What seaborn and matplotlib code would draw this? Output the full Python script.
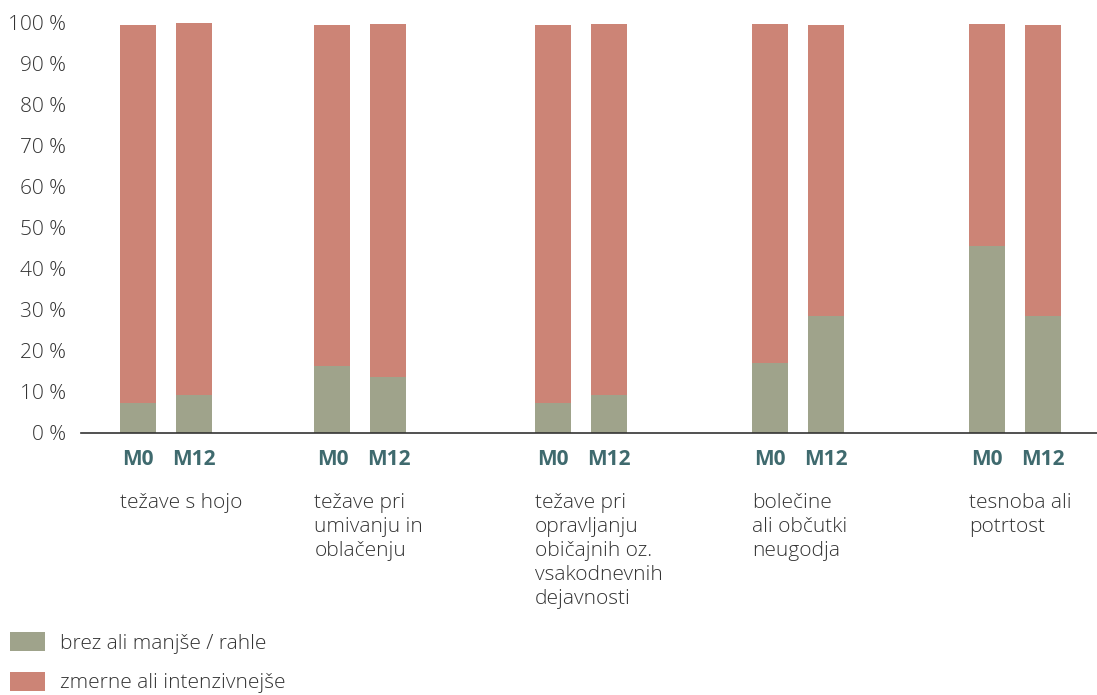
import matplotlib
matplotlib.use("Agg")
import matplotlib.pyplot as plt
from matplotlib.patches import Patch
from matplotlib.transforms import blended_transform_factory
import seaborn as sns
import pandas as pd
import numpy as np

# ---- data ----
categories = ["težave s hojo", "težave pri\numivanju in\noblačenju",
              "težave pri\nopravljanju\nobičajnih oz.\nvsakodnevnih\ndejavnosti",
              "bolečine\nali občutki\nneugodja", "tesnoba ali\npotrtost"]
periods = ["M0", "M12"]
mild = [7.3, 9.2, 16.4, 13.6, 7.3, 9.2, 17.0, 28.5, 45.5, 28.5]      # brez ali manjše / rahle
severe = [92.0, 90.5, 82.9, 86.0, 92.0, 90.4, 82.6, 70.8, 54.1, 70.8]  # zmerne ali intenzivnejše
series_names = ["brez ali manjše / rahle", "zmerne ali intenzivnejše"]
yticks = list(range(0, 101, 10))

# ---- layout ----
group_centers = [1.52, 4.99, 8.92, 12.8, 16.68]
bar_w = 0.643
c_green = "#9FA38B"
c_red = "#CC8476"
c_teal = "#3F6A6E"
c_text = "#333333"

sns.set_style("white")
plt.rcParams["font.family"] = ["Open Sans", "DejaVu Sans"]

rows = []
k = 0
for gi, cat in enumerate(categories):
    for pi, per in enumerate(periods):
        rows.append({"pos": group_centers[gi] + (pi - 0.5), "cat": cat, "period": per,
                     "mild": mild[k], "severe": severe[k]})
        k += 1
df = pd.DataFrame(rows)
df["total"] = df["mild"] + df["severe"]

fig = plt.figure(figsize=(10.97, 6.95), dpi=100)
ax = fig.add_axes([81 / 1097, 1 - 433 / 695, 1 - 81 / 1097, (433 - 22) / 695])

sns.barplot(data=df, x="pos", y="total", native_scale=True, color=c_red,
            width=bar_w, saturation=1, ax=ax, errorbar=None, linewidth=0)
sns.barplot(data=df, x="pos", y="mild", native_scale=True, color=c_green,
            width=bar_w, saturation=1, ax=ax, errorbar=None, linewidth=0)

ax.set_xlim(0, 1016 / 56)
ax.set_ylim(0, 100)
ax.set_yticks(yticks)
ax.set_yticklabels([f"{t} %" for t in yticks], fontsize=15, color=c_text, fontweight="light")
ax.tick_params(axis="y", length=0, pad=11)
ax.set_xticks([])
ax.set_xlabel("")
ax.set_ylabel("")
for s in ["top", "right", "left"]:
    ax.spines[s].set_visible(False)
ax.spines["bottom"].set_color("#333333")
ax.spines["bottom"].set_linewidth(1.2)

trans = blended_transform_factory(ax.transData, ax.transAxes)
for _, r in df.iterrows():
    ax.text(r["pos"], -0.064, r["period"], transform=trans, ha="center", va="center",
            fontsize=15, fontweight="bold", color=c_teal)
for gi, cat in enumerate(categories):
    ax.text(group_centers[gi] - 0.5 - bar_w / 2, -0.146, cat, transform=trans,
            ha="left", va="top", fontsize=15, color=c_text, linespacing=1.27,
            fontweight="light")

handles = [Patch(facecolor=c_green, edgecolor="none"), Patch(facecolor=c_red, edgecolor="none")]
fig.legend(handles, series_names, loc="upper left", bbox_to_anchor=(10 / 1097, 1 - 632 / 695),
           frameon=False, handlelength=1.68, handleheight=1.06,
           handletextpad=0.72, labelspacing=0.85, labelcolor=c_text,
           borderpad=0, borderaxespad=0, prop={"size": 15, "weight": "light"})

fig.savefig("out.png", dpi=100)
